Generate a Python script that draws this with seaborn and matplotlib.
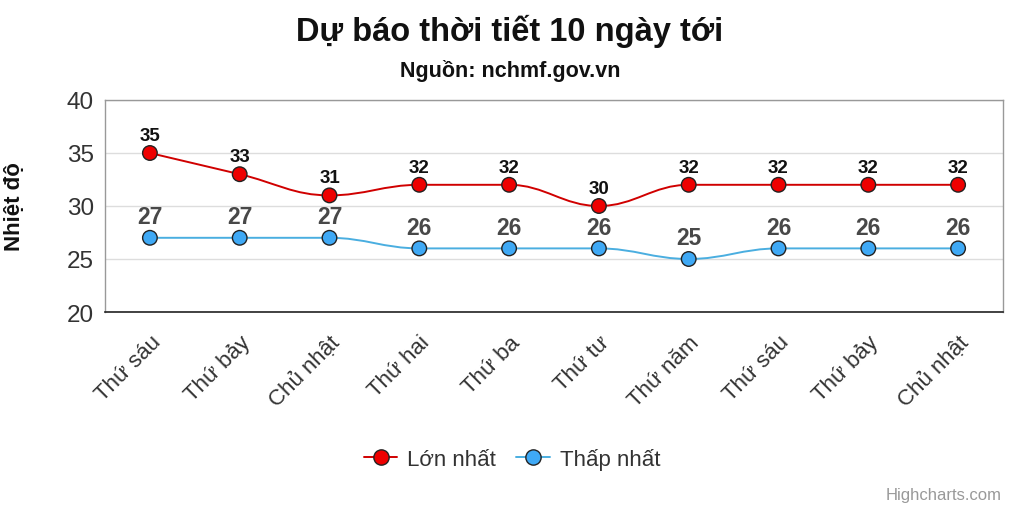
import numpy as np
import pandas as pd
import seaborn as sns
import matplotlib
matplotlib.use("Agg")
import matplotlib.pyplot as plt
from matplotlib.path import Path
from matplotlib.patches import PathPatch
from matplotlib.transforms import ScaledTranslation

days = ["Thứ sáu", "Thứ bảy", "Chủ nhật", "Thứ hai", "Thứ ba",
        "Thứ tư", "Thứ năm", "Thứ sáu", "Thứ bảy", "Chủ nhật"]
max_temp = [35, 33, 31, 32, 32, 30, 32, 32, 32, 32]
min_temp = [27, 27, 27, 26, 26, 26, 25, 26, 26, 26]
series_names = ["Lớn nhất", "Thấp nhất"]
y_ticks = [20, 25, 30, 35, 40]

RED_LINE, RED_MARK = "#d00000", "#ee0000"
BLUE_LINE, BLUE_MARK = "#4aaee0", "#3fa9f5"

sns.set_theme(style="white")
plt.rcParams['font.family'] = ['Liberation Sans', 'DejaVu Sans']

fig = plt.figure(figsize=(10.2, 5.1), dpi=100)
ax = fig.add_axes([105/1020, 1-313/510, 898/1020, 212/510])

x = np.arange(len(days))
df = pd.DataFrame({"x": np.concatenate([x, x]),
                   "y": max_temp + min_temp,
                   "s": [series_names[0]] * len(x) + [series_names[1]] * len(x)})


def spline_path(xs, ys, smoothing=1.5):
    # Highcharts-style spline control points
    n = len(xs)
    denom = smoothing + 1
    verts = [(xs[0], ys[0])]
    codes = [Path.MOVETO]
    ctrl = []
    for i in range(n):
        if i == 0 or i == n - 1:
            ctrl.append(((xs[i], ys[i]), (xs[i], ys[i])))
            continue
        lx = (smoothing * xs[i] + xs[i-1]) / denom
        ly = (smoothing * ys[i] + ys[i-1]) / denom
        rx = (smoothing * xs[i] + xs[i+1]) / denom
        ry = (smoothing * ys[i] + ys[i+1]) / denom
        corr = (ry - ly) * (rx - xs[i]) / (rx - lx) + ys[i] - ry
        ly += corr
        ry += corr
        if ly > ys[i-1] and ly > ys[i]:
            ly = max(ys[i-1], ys[i]); ry = 2 * ys[i] - ly
        elif ly < ys[i-1] and ly < ys[i]:
            ly = min(ys[i-1], ys[i]); ry = 2 * ys[i] - ly
        if ry > ys[i+1] and ry > ys[i]:
            ry = max(ys[i+1], ys[i]); ly = 2 * ys[i] - ry
        elif ry < ys[i+1] and ry < ys[i]:
            ry = min(ys[i+1], ys[i]); ly = 2 * ys[i] - ry
        ctrl.append(((lx, ly), (rx, ry)))
    for i in range(1, n):
        verts += [ctrl[i-1][1], ctrl[i][0], (xs[i], ys[i])]
        codes += [Path.CURVE4] * 3
    return Path(verts, codes)


for vals, col in [(max_temp, RED_LINE), (min_temp, BLUE_LINE)]:
    ax.add_patch(PathPatch(spline_path(list(x.astype(float)), [float(v) for v in vals]),
                           facecolor="none", edgecolor=col, lw=1.4, zorder=2))

sns.scatterplot(data=df, x="x", y="y", hue="s",
                palette={series_names[0]: RED_MARK, series_names[1]: BLUE_MARK},
                s=110, edgecolor="#222222", linewidth=1.0, zorder=3, ax=ax, legend=False)

for xi, v in zip(x, max_temp):
    ax.annotate(str(v), (xi, v), xytext=(0, 6.5), textcoords="offset points",
                ha="center", va="bottom", fontsize=13.5, fontweight="bold", color="#111111")
for xi, v in zip(x, min_temp):
    ax.annotate(str(v), (xi, v), xytext=(0, 7), textcoords="offset points",
                ha="center", va="bottom", fontsize=16.5, fontweight="bold", color="#484848")

ax.set_xlim(-0.5, len(days) - 0.5)
ax.set_ylim(20, 40)
ax.set_yticks(y_ticks)
ax.set_yticklabels([str(t) for t in y_ticks], fontsize=17.5, color="#333333")
ax.set_xticks(x)
ax.set_xticklabels(days, rotation=45, ha="right", rotation_mode="anchor",
                   fontsize=16, color="#333333")
offset = ScaledTranslation(12/100, 0, fig.dpi_scale_trans)
for lbl in ax.get_xticklabels():
    lbl.set_transform(lbl.get_transform() + offset)
ax.tick_params(axis="x", length=0, pad=14)
ax.tick_params(axis="y", length=0, pad=8)
ax.yaxis.grid(True, color="#dddddd", lw=1)
ax.set_axisbelow(True)
for side in ["left", "top", "right"]:
    ax.spines[side].set_color("#999999")
    ax.spines[side].set_linewidth(1)
ax.spines["bottom"].set_color("#222222")
ax.spines["bottom"].set_linewidth(1.2)
ax.set_xlabel("")
ax.set_ylabel("Nhiệt độ", fontsize=16, fontweight="bold", color="#111111")
ax.yaxis.set_label_coords(-80/898, 0.5)

fig.text(0.5, 1 - 31/510, "Dự báo thời tiết 10 ngày tới", ha="center", va="center",
         fontsize=23.5, fontweight="bold", color="#111111")
fig.text(0.5, 1 - 71/510, "Nguồn: nchmf.gov.vn", ha="center", va="center",
         fontsize=15.5, fontweight="bold", color="#111111")

handles = [plt.Line2D([], [], color=RED_LINE, lw=1.4, marker="o", markersize=11,
                      markerfacecolor=RED_MARK, markeredgecolor="#222222"),
           plt.Line2D([], [], color=BLUE_LINE, lw=1.4, marker="o", markersize=11,
                      markerfacecolor=BLUE_MARK, markeredgecolor="#222222")]
fig.legend(handles, series_names, loc="center", bbox_to_anchor=(512/1020, 1 - 460/510),
           ncol=2, frameon=False, fontsize=16, handlelength=1.5, columnspacing=0.9,
           handletextpad=0.45, labelcolor="#333333")

fig.text(1 - 18/1020, 1 - 496/510, "Highcharts.com", ha="right", va="center",
         fontsize=12, color="#999999")

fig.savefig("out.png", dpi=100)
